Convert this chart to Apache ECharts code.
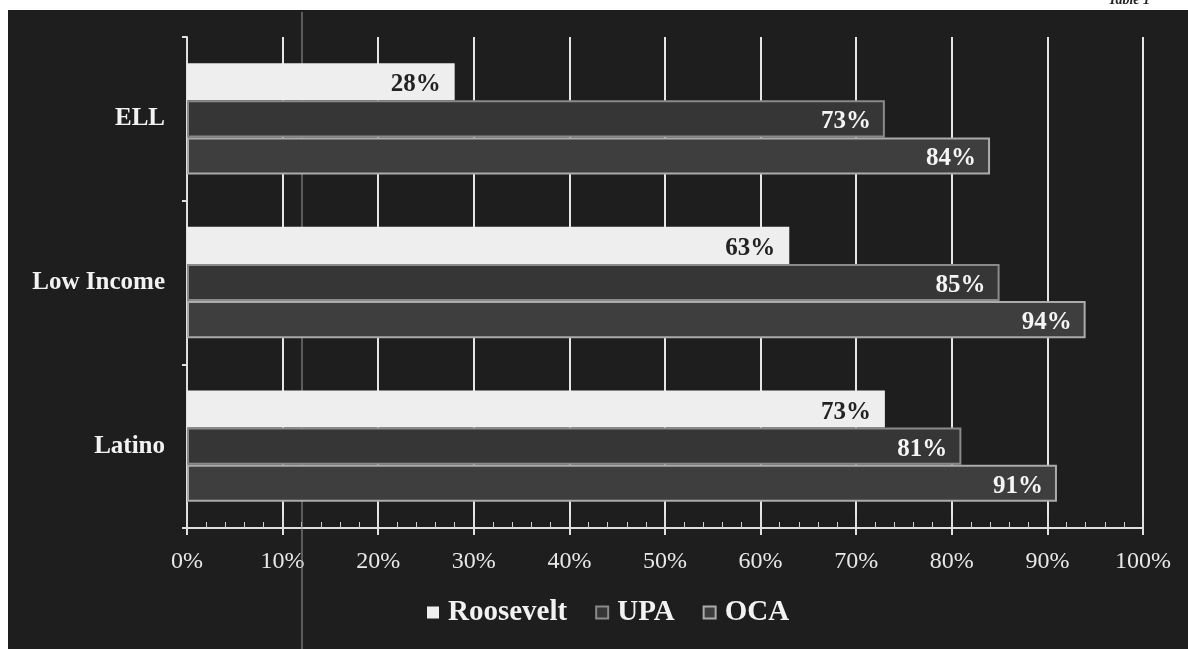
<!DOCTYPE html>
<html>
<head>
<meta charset="utf-8">
<script src="https://cdn.jsdelivr.net/npm/echarts@6/dist/echarts.min.js"></script>
<style>
  html, body { margin: 0; padding: 0; background: #fff; }
  #chart { width: 1188px; height: 649px; }
</style>
</head>
<body>
<div id="chart"></div>
<script>
// data
const categories = ['Latino', 'Low Income', 'ELL'];
const roosevelt = [73, 63, 28];
const upa = [81, 85, 73];
const oca = [91, 94, 84];
const seriesNames = ['Roosevelt', 'UPA', 'OCA'];

const chart = echarts.init(document.getElementById('chart'));
const serif = '"Liberation Serif", "DejaVu Serif", serif';

function barLabel(color) {
    return {
        show: true,
        position: 'insideRight',
        formatter: '{c}%',
        color: color,
        fontFamily: serif,
        fontWeight: 'bold',
        fontSize: 25,
        distance: 14,
        offset: [0, 3]
    };
}

const option = {
    backgroundColor: '#fff',
    animation: false,
    graphic: [
        // dark panel behind everything
        { type: 'rect', z: -10, shape: { x: 8, y: 10, width: 1180, height: 639 }, style: { fill: '#1e1e1e' } },
        { type: 'text', right: 38, top: -7, style: { text: 'Table 1', font: 'italic bold 14px "Liberation Serif"', fill: '#222' } },
        // scan artefact line
        { type: 'line', z: 1, shape: { x1: 302, y1: 12, x2: 302, y2: 649 }, style: { stroke: '#9a9a9a', lineWidth: 1 } }
    ],
    grid: { left: 187, right: 45, top: 37, bottom: 121 },
    legend: {
        data: seriesNames,
        bottom: 17,
        left: 422,
        itemWidth: 12,
        itemHeight: 12,
        itemGap: 28,
        icon: 'rect',
        textStyle: { color: '#f2f2f2', fontFamily: serif, fontWeight: 'bold', fontSize: 29, padding: [0, 0, 0, 4] }
    },
    xAxis: [
        {
            type: 'value',
            min: 0,
            max: 100,
            interval: 10,
            axisLabel: { formatter: '{value}%', color: '#e8e8e8', fontFamily: serif, fontSize: 24, margin: 22 },
            axisLine: { show: true, lineStyle: { color: '#e0e0e0', width: 2 } },
            axisTick: { show: true, inside: true, length: 12, lineStyle: { color: '#e0e0e0', width: 2 } },
            minorTick: { show: true, splitNumber: 5, length: 6, lineStyle: { color: '#d0d0d0' } },
            splitLine: { show: true, lineStyle: { color: '#e6e6e6', width: 2 } }
        },
        {
            // short outward ticks below the axis line
            type: 'value',
            position: 'bottom',
            min: 0,
            max: 100,
            interval: 10,
            axisLabel: { show: false },
            axisLine: { show: false },
            splitLine: { show: false },
            axisTick: { show: true, length: 7, lineStyle: { color: '#e0e0e0', width: 2 } }
        }
    ],
    yAxis: {
        type: 'category',
        data: categories,
        axisLabel: { color: '#f2f2f2', fontFamily: serif, fontWeight: 'bold', fontSize: 25, margin: 22 },
        axisLine: { show: true, lineStyle: { color: '#e0e0e0', width: 2 } },
        axisTick: { show: true, length: 5, lineStyle: { color: '#e0e0e0', width: 2 } }
    },
    series: [
        {
            name: 'Roosevelt', type: 'bar', data: roosevelt,
            barCategoryGap: '32%', barGap: '0%',
            itemStyle: { color: '#eeeeee' },
            label: barLabel('#222')
        },
        {
            name: 'UPA', type: 'bar', data: upa,
            itemStyle: { color: '#363636', borderColor: '#8a8a8a', borderWidth: 2 },
            label: barLabel('#f5f5f5')
        },
        {
            name: 'OCA', type: 'bar', data: oca,
            itemStyle: { color: '#3e3e3e', borderColor: '#ababab', borderWidth: 2 },
            label: barLabel('#f5f5f5')
        }
    ]
};

chart.setOption(option);
</script>
</body>
</html>
